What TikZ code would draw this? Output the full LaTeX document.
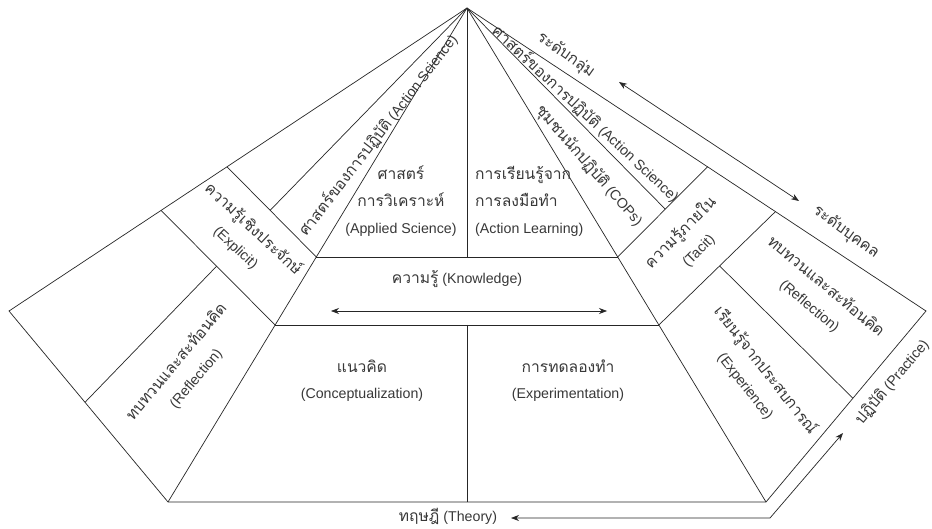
\documentclass[tikz,border=0pt]{standalone}
\usepackage{fontspec}
\setmainfont{Liberation Sans}
\newfontfamily\thf[Script=Thai,Scale=1.1]{Loma}
\usetikzlibrary{arrows.meta,calc}
\begin{document}
\begin{tikzpicture}[x=1pt,y=-1pt,
  ln/.style={line width=0.7pt, draw=black!85},
  lbl/.style={font=\fontsize{14.2}{25}\selectfont, text=black!78, inner sep=0pt, align=center},
  lblw/.style={lbl, font=\fontsize{14.2}{27}\selectfont},
  arr/.style={ln, {Stealth[length=8pt,width=6pt]}-{Stealth[length=8pt,width=6pt]}}]
\useasboundingbox[fill=white] (0,0) rectangle (932,529);
% main points
\coordinate (A) at (467,8);
\coordinate (L1) at (9,311);
\coordinate (R1) at (926,311);
\coordinate (B1) at (168,502);
\coordinate (B2) at (766,502);
\coordinate (Ktl) at ($(A)!0.504!(B1)$);
\coordinate (Kbl) at ($(A)!0.6417!(B1)$);
\coordinate (Ktr) at ($(A)!0.504!(B2)$);
\coordinate (Kbr) at ($(A)!0.6417!(B2)$);
\coordinate (Ct) at ($(Ktl)!0.5!(Ktr)$);
\coordinate (Cb) at ($(Kbl)!0.5!(Kbr)$);
\coordinate (Bm) at ($(B1)!0.5!(B2)$);
% left wing
\coordinate (P2) at ($(A)!0.524!(L1)$);
\coordinate (P1) at ($(A)!0.668!(L1)$);
\coordinate (P3) at ($(P2)!0.483!(Ktl)$);
\coordinate (P4) at ($(P1)!0.487!(Kbl)$);
\coordinate (P5) at ($(L1)!0.478!(B1)$);
% right wing
\coordinate (T1) at ($(A)!0.524!(R1)$);
\coordinate (T2) at ($(A)!0.672!(R1)$);
\coordinate (Q) at ($(T1)!0.47!(Ktr)$);
\coordinate (T3) at ($(T2)!0.479!(Kbr)$);
\coordinate (T4) at ($(R1)!0.457!(B2)$);
% outline
\draw[ln] (A) -- (L1) -- (B1) -- (B2) -- (R1) -- cycle;
\draw[ln] (A) -- (B1);
\draw[ln] (A) -- (B2);
\draw[ln] (Ktl) -- (Ktr);
\draw[ln] (Kbl) -- (Kbr);
\draw[ln] (A) -- (Ct);
\draw[ln] (Cb) -- (Bm);
\draw[ln] (P2) -- (Ktl);
\draw[ln] (P1) -- (Kbl);
\draw[ln] (A) -- (P3);
\draw[ln] (P4) -- (P5);
\draw[ln] (T1) -- (Ktr);
\draw[ln] (T2) -- (Kbr);
\draw[ln] (A) -- (Q);
\draw[ln] (T3) -- (T4);
% arrows
\coordinate (KA1) at (331,311);
\coordinate (KA2) at (607,311);
\draw[arr] (KA1) -- (KA2);
\coordinate (G1) at (619,82);
\coordinate (G2) at (799,201);
\draw[arr] (G1) -- (G2);
\coordinate (TH) at (511,518);
\coordinate (Cr) at (770,518);
\coordinate (PR) at (843,433);
\draw[arr] (TH) -- (Cr) -- (PR);
% texts
\node[lbl] (know) at (457,279) {{\thf ความรู้} (Knowledge)};
\node[lblw] (appl) at (401,201) {{\thf ศาสตร์}\\{\thf การวิเคราะห์}\\(Applied Science)};
\node[lblw, align=left, anchor=west] (actl) at (475,201) {{\thf การเรียนรู้จาก}\\{\thf การลงมือทำ}\\(Action Learning)};
\node[lbl, font=\fontsize{14.2}{26}\selectfont] (conc) at (362,381) {{\thf แนวคิด}\\(Conceptualization)};
\node[lbl, font=\fontsize{14.2}{26}\selectfont] (expt) at (568,381) {{\thf การทดลองทำ}\\(Experimentation)};
\node[lbl] (theory) at (448,516) {{\thf ทฤษฎี} (Theory)};
\node[lbl, rotate=52.5] (asl) at (378,135) {{\thf ศาสตร์ของการปฏิบัติ} (Action Science)};
\node[lbl, rotate=-43] (expl) at (245,238) {{\thf ความรู้เชิงประจักษ์}\\(Explicit)};
\node[lbl, rotate=50] (refl) at (186,370) {{\thf ทบทวนและสะท้อนคิด}\\(Reflection)};
\node[lbl, rotate=-43] (asr) at (586,114) {{\thf ศาสตร์ของการปฏิบัติ} (Action Science)};
\node[lbl, rotate=-49] (cops) at (589,166) {{\thf ชุมชนนักปฏิบัติ} (COPs)};
\node[lbl, rotate=45] (tacit) at (689,241) {{\thf ความรู้ภายใน}\\(Tacit)};
\node[lbl, rotate=-40] (reflr) at (818,296) {{\thf ทบทวนและสะท้อนคิด}\\(Reflection)};
\node[lbl, rotate=-52] (exper) at (756,378) {{\thf เรียนรู้จากประสบการณ์}\\(Experience)};
\node[lbl, rotate=-35] (grp) at (566,55) {{\thf ระดับกลุ่ม}};
\node[lbl, rotate=-36] (ind) at (846,232) {{\thf ระดับบุคคล}};
\node[lbl, rotate=50] (prac) at (892,382) {{\thf ปฏิบัติ} (Practice)};
\end{tikzpicture}
\end{document}
